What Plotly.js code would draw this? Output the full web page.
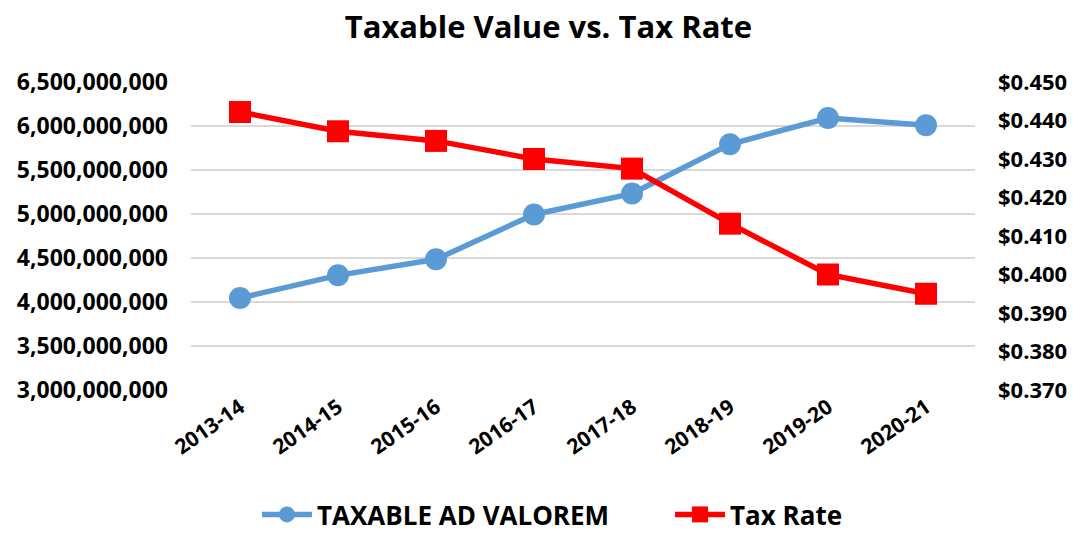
<!DOCTYPE html>
<html>
<head>
<meta charset="utf-8">
<script src="https://cdn.plot.ly/plotly-3.0.1.min.js"></script>
<style>html,body{margin:0;padding:0;background:#fff;}#chart{width:1086px;height:538px;}</style>
</head>
<body>
<div id="chart"></div>
<script>
const years = ["2013-14","2014-15","2015-16","2016-17","2017-18","2018-19","2019-20","2020-21"];
const taxableValue = [4045000000, 4303000000, 4485000000, 4995000000, 5232000000, 5792000000, 6091000000, 6008000000];
const taxRate = [0.4422, 0.4372, 0.4347, 0.4300, 0.4275, 0.4132, 0.4000, 0.3950];

const fontFam = '"Open Sans", Lato, sans-serif';
const boldFont = (s) => ({family: fontFam, size: s, color: '#000', weight: 'bold'});

const traces = [
  {
    x: years, y: taxableValue, name: 'TAXABLE AD VALOREM', type: 'scatter', mode: 'lines+markers',
    line: {color: '#5b9bd5', width: 5.5}, marker: {symbol: 'circle', size: 22, color: '#5b9bd5'},
    yaxis: 'y', legend: 'legend'
  },
  {
    x: years, y: taxRate, name: 'Tax Rate', type: 'scatter', mode: 'lines+markers',
    line: {color: '#ff0000', width: 5.5}, marker: {symbol: 'square', size: 22, color: '#ff0000'},
    yaxis: 'y2', legend: 'legend2'
  }
];

const legendBase = {
  orientation: 'h', xref: 'container', xanchor: 'left', y: 0.0, yref: 'container', yanchor: 'bottom',
  font: boldFont(26), itemwidth: 50
};

const layout = {
  width: 1086, height: 538,
  margin: {l: 191, r: 111, t: 82, b: 148},
  paper_bgcolor: '#fff', plot_bgcolor: '#fff',
  title: {text: 'Taxable Value vs. Tax Rate', font: boldFont(31), x: 0.505, xref: 'container', y: 0.95, yref: 'container', yanchor: 'middle'},
  xaxis: {
    type: 'category', range: [-0.5, 7.5], tickangle: -35, tickfont: boldFont(21),
    showgrid: false, showline: false, zeroline: false, ticks: ''
  },
  yaxis: {
    range: [3000000000, 6500000000], dtick: 500000000, tickformat: ',', tickfont: boldFont(23),
    showgrid: true, gridcolor: '#d9d9d9', gridwidth: 1.5, zeroline: false, showline: false, ticks: '',
    ticklabelstandoff: 22
  },
  yaxis2: {
    range: [0.37, 0.45], dtick: 0.01, tickformat: '$.3f', tickfont: boldFont(22),
    overlaying: 'y', side: 'right', showgrid: false, zeroline: false, showline: false, ticks: '',
    ticklabelstandoff: 22
  },
  showlegend: true,
  legend: Object.assign({}, legendBase, {x: 0.2366}),
  legend2: Object.assign({}, legendBase, {x: 0.617})
};

Plotly.newPlot('chart', traces, layout, {displayModeBar: false, staticPlot: true});
</script>
</body>
</html>
